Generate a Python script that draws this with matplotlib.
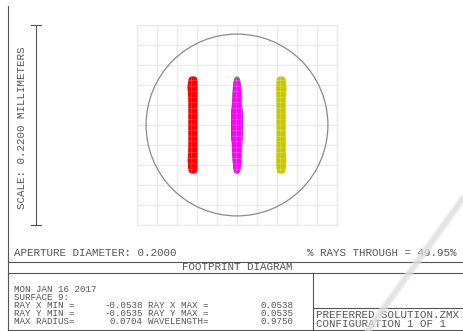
import matplotlib
matplotlib.use("Agg")
import matplotlib.pyplot as plt
import numpy as np
from matplotlib.patches import Circle

# ---------------------------------------------------------------- data (mm)
aperture_diameter = 0.2000
plot_scale = 0.2200
ray_x_min, ray_x_max = -0.0538, 0.0538
ray_y_min, ray_y_max = -0.0535, 0.0535
max_radius = 0.0704
wavelength = 0.9750
rays_through = 49.95

# footprint of each field: centre x, profile sampled along y
field_names = ["field 1", "field 2", "field 3"]
field_centre_x = [-0.0484, 0.0, 0.0484]
field_colors = ["#ff0000", "#ff00ff", "#c8c800"]
field_hatch = ["#ff8a8a", "#ff9aff", "#e6e68a"]

profile_frac = [1.0, 0.97, 0.90, 0.78, 0.60, 0.40, 0.20, 0.0,
                -0.20, -0.40, -0.60, -0.72, -0.90, -0.97, -1.0]
# outer edge (away from axis) and inner edge half widths of the side fields
side_outer = [0.0020, 0.0045, 0.0053, 0.0062, 0.0054, 0.0052, 0.0052, 0.0052,
              0.0052, 0.0052, 0.0054, 0.0060, 0.0053, 0.0045, 0.0020]
side_inner = [0.0020, 0.0043, 0.0050, 0.0053, 0.0051, 0.0050, 0.0050, 0.0050,
              0.0050, 0.0050, 0.0051, 0.0053, 0.0050, 0.0043, 0.0020]
# on-axis field half widths
centre_half = [0.0008, 0.0028, 0.0038, 0.0045, 0.0051, 0.0057, 0.0060, 0.0062,
               0.0060, 0.0057, 0.0053, 0.0049, 0.0040, 0.0030, 0.0008]
centre_top = 0.0518          # magenta top; green wavelength peeks above it
blue_frac = [0.45, 0.3, 0.0, -0.3, -0.4]
blue_half = [0.0048, 0.0062, 0.0065, 0.0062, 0.0048]

date_text = "MON JAN 16 2017"
surface_text = "SURFACE 9:"
lens_file = "PREFERRED SOLUTION.ZMX"
config_text = "CONFIGURATION 1 OF 1"

# ---------------------------------------------------------------- figure
W, H, DPI = 464, 331, 100
fig = plt.figure(figsize=(W / DPI, H / DPI), dpi=DPI)
fig.patch.set_facecolor("white")
plt.rcParams["hatch.linewidth"] = 0.25

BIG = dict(family="Liberation Mono", fontsize=7.8, color="#555555")
SMALL = dict(family="Liberation Mono", fontsize=6.6, color="#555555")
LINE = "#555555"

# overlay in pixel units for frame and annotation
ov = fig.add_axes([0, 0, 1, 1])
ov.set_xlim(0, W)
ov.set_ylim(H, 0)
ov.axis("off")

# footprint plot area (square, 200 x 200 px)
gx0, gy0, gs = 137, 25, 200
ax = fig.add_axes([gx0 / W, 1 - (gy0 + gs) / H, gs / W, gs / H])
half = plot_scale / 2
ax.set_xlim(-half, half)
ax.set_ylim(-half, half)
ticks = np.linspace(-half, half, 11)
ax.set_xticks(ticks)
ax.set_yticks(ticks)
ax.tick_params(length=0, labelbottom=False, labelleft=False)
ax.grid(True, color="#ebebeb", linewidth=1.0)
for s in ax.spines.values():
    s.set_color("#ebebeb")
    s.set_linewidth(1.0)
ax.set_facecolor("none")
ax.set_axisbelow(True)

ax.add_patch(Circle((0, 0), aperture_diameter / 2, fill=False,
                    edgecolor="#8a8a8a", linewidth=0.9, zorder=3))

ys = np.array(profile_frac) * ray_y_max


def spot(cx, left, right, yv, face, hatch_col, z):
    left = np.asarray(left)
    right = np.asarray(right)
    xs = np.concatenate([cx - left, (cx + right)[::-1]])
    yy = np.concatenate([yv, yv[::-1]])
    ax.fill(xs, yy, facecolor=face, edgecolor=hatch_col, linewidth=0,
            hatch="+++", zorder=z)


# left field (red), bulging outward on the left
spot(field_centre_x[0], side_outer, side_inner, ys,
     field_colors[0], field_hatch[0], 4)
# right field (yellow), mirrored
spot(field_centre_x[2], side_inner, side_outer, ys,
     field_colors[2], field_hatch[2], 4)
# on-axis field: green tip, blue core, magenta body
spot(field_centre_x[1], centre_half, centre_half, ys,
     "#00e000", "#00e000", 4)
by = np.array(blue_frac) * ray_y_max
spot(field_centre_x[1], blue_half, blue_half, by, "#3030ff", "#3030ff", 4.5)
my = np.where(ys > 0, np.array(profile_frac) * centre_top, ys)
spot(field_centre_x[1], centre_half, centre_half, my,
     field_colors[1], field_hatch[1], 5)

# ---------------------------------------------------------------- scale bar
ov.plot([36, 36], [gy0, gy0 + gs], color=LINE, lw=0.8)
ov.plot([31, 41], [gy0, gy0], color=LINE, lw=0.8)
ov.plot([31, 41], [gy0 + gs, gy0 + gs], color=LINE, lw=0.8)
ov.text(22.5, 128, f"SCALE: {plot_scale:.4f} MILLIMETERS", rotation=90,
        ha="center", va="center", **BIG)

# ---------------------------------------------------------------- frame
ov.plot([8, 8], [6, 329.5], color=LINE, lw=0.8)
ov.plot([8, W], [262, 262], color=LINE, lw=0.8)
ov.plot([8, W], [273, 273], color=LINE, lw=0.8)
ov.plot([8, W], [329.5, 329.5], color=LINE, lw=0.8)
ov.plot([313, 313], [273, 329.5], color=LINE, lw=0.8)
ov.plot([313, W], [308, 308], color=LINE, lw=0.8)

ov.text(14, 253.5, f"APERTURE DIAMETER: {aperture_diameter:.4f}",
        ha="left", va="center", **BIG)
ov.text(457, 253.5, f"% RAYS THROUGH = {rays_through:.2f}%",
        ha="right", va="center", **BIG)
ov.text(237, 267.5, "FOOTPRINT DIAGRAM", ha="center", va="center", **BIG)

rows_y = [289.5, 297, 305, 313, 321]
ov.text(14, rows_y[0], date_text, ha="left", va="center", **SMALL)
ov.text(14, rows_y[1], surface_text, ha="left", va="center", **SMALL)
left_labels = ["RAY X MIN =", "RAY Y MIN =", "MAX RADIUS="]
left_vals = [ray_x_min, ray_y_min, max_radius]
right_labels = ["RAY X MAX =", "RAY Y MAX =", "WAVELENGTH="]
right_vals = [ray_x_max, ray_y_max, wavelength]
for i in range(3):
    y = rows_y[i + 2]
    ov.text(14, y, left_labels[i], ha="left", va="center", **SMALL)
    ov.text(143, y, f"{left_vals[i]:.4f}", ha="right", va="center", **SMALL)
    ov.text(148, y, right_labels[i], ha="left", va="center", **SMALL)
    ov.text(294, y, f"{right_vals[i]:.4f}", ha="right", va="center", **SMALL)

ov.text(316, 315, lens_file, ha="left", va="center", **BIG)
ov.text(316, 324, config_text, ha="left", va="center", **BIG)

# faint diagonal stroke across the lower right corner
ov.plot([467, 366], [193, 333], color="#e2e2e2", lw=5.5, alpha=0.55,
        solid_capstyle="butt", zorder=10)
ov.plot([467, 366], [193, 333], color="#dcdcdc", lw=3.0, alpha=0.6,
        solid_capstyle="butt", zorder=10)

fig.savefig("out.png", dpi=DPI, facecolor="white")
